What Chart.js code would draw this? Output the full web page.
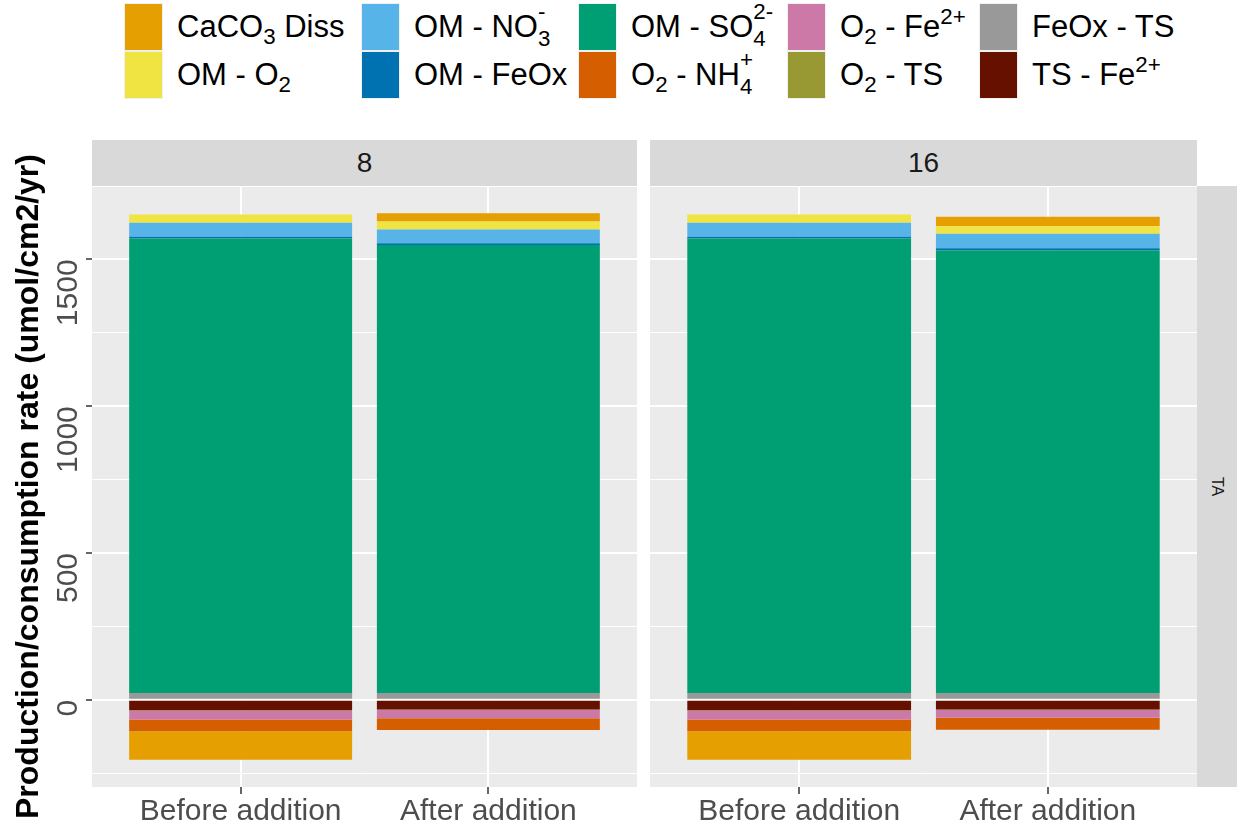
<!DOCTYPE html>
<html>
<head>
<meta charset="utf-8">
<script src="https://cdn.jsdelivr.net/npm/chart.js@4.4.0/dist/chart.umd.min.js"></script>
<style>
  html, body { margin: 0; padding: 0; background: #fff; }
  body { width: 1238px; height: 830px; position: relative; overflow: hidden;
         font-family: "Liberation Sans", Arial, sans-serif; }
  canvas { position: absolute; }
  .key { position: absolute; width: 37px; height: 46px; box-shadow: 0 0 0 1px #f0f0f0; }
  .lab { position: absolute; font-size: 31px; line-height: 30px; color: #000; white-space: nowrap; }
  .sb { font-size: 0.72em; position: relative; top: 0.32em; line-height: 0; }
  .sp { font-size: 0.72em; position: relative; top: -0.6em; line-height: 0; }
  .ss { display: inline-block; position: relative; font-size: 0.72em; line-height: 0; }
  .ss .b { position: relative; top: 0.42em; }
  .ss .p { position: absolute; left: 0; top: -0.8em; }
  .strip { position: absolute; background: #d9d9d9; color: #1a1a1a; font-size: 28px;
           display: flex; align-items: center; justify-content: center; }
  .rstrip { position: absolute; background: #d9d9d9; color: #1a1a1a; font-size: 16px;
            writing-mode: vertical-rl; display: flex; align-items: center; justify-content: center; }
</style>
</head>
<body>
<div id="legend"></div>
<div class="strip" id="strip0" style="left:92px;top:140px;width:545px;height:46px;"></div>
<div class="strip" id="strip1" style="left:650px;top:140px;width:547px;height:46px;"></div>
<div class="rstrip" id="rstrip" style="left:1197px;top:186px;width:40px;height:601px;"></div>
<canvas id="c0" width="637" height="720" style="left:0;top:110px;"></canvas>
<canvas id="c1" width="547" height="720" style="left:650px;top:110px;"></canvas>
<script>
// categories and facets
const categories = ['Before addition', 'After addition'];
const panels = ['8', '16'];
const rowStrip = 'TA';

// series, in legend order
const seriesNames = ['CaCO3 Diss', 'OM - O2', 'OM - NO3-', 'OM - FeOx', 'OM - SO4 2-',
                     'O2 - NH4+', 'O2 - Fe2+', 'O2 - TS', 'FeOx - TS', 'TS - Fe2+'];
const seriesLegend = [
  'CaCO<span class="sb">3</span> Diss',
  'OM - O<span class="sb">2</span>',
  'OM - NO<span class="ss"><span class="b">3</span><span class="p">-</span></span>',
  'OM - FeOx',
  'OM - SO<span class="ss"><span class="b">4</span><span class="p">2-</span></span>',
  'O<span class="sb">2</span> - NH<span class="ss"><span class="b">4</span><span class="p">+</span></span>',
  'O<span class="sb">2</span> - Fe<span class="sp">2+</span>',
  'O<span class="sb">2</span> - TS',
  'FeOx - TS',
  'TS - Fe<span class="sp">2+</span>'
];
const seriesColors = ['#E69F00', '#F0E442', '#56B4E9', '#0072B2', '#009E73',
                      '#D55E00', '#CC79A7', '#999933', '#999999', '#661100'];

// values: panel 8 (before, after), panel 16 (before, after)
const caco3Diss = [-97, 28, -97, 32];
const omO2      = [28, 27, 28, 26];
const omNO3     = [48, 47, 48, 49];
const omFeOx    = [6, 6, 6, 7];
const omSO4     = [1548, 1526, 1548, 1508];
const o2NH4     = [-40, -40, -40, -41];
const o2Fe      = [-30, -28, -30, -26];
const o2TS      = [-1, -2, -1, -2];
const feoxTS    = [23, 23, 23, 23];
const tsFe      = [-36, -33, -36, -33];

const allSeries = [caco3Diss, omO2, omNO3, omFeOx, omSO4, o2NH4, o2Fe, o2TS, feoxTS, tsFe];
// stacking order from zero outwards
const stackOrder = [8, 9, 7, 6, 5, 4, 3, 2, 1, 0];

// shared y range with 5% expansion, like the original
let hi = 0, lo = 0;
for (let k = 0; k < panels.length * categories.length; k++) {
  let pos = 0, neg = 0;
  allSeries.forEach(s => { if (s[k] > 0) pos += s[k]; else neg += s[k]; });
  hi = Math.max(hi, pos); lo = Math.min(lo, neg);
}
const pad = (hi - lo) * 0.05;
const yMin = lo - pad, yMax = hi + pad;

Chart.defaults.font.family = '"Liberation Sans", Arial, sans-serif';

const panelBg = {
  id: 'panelBg',
  beforeDraw(chart) {
    const a = chart.chartArea, ctx = chart.ctx;
    ctx.save();
    ctx.fillStyle = '#EBEBEB';
    ctx.fillRect(a.left, a.top, a.right - a.left, a.bottom - a.top);
    ctx.restore();
  }
};

function makeChart(id, p, showY) {
  const datasets = stackOrder.map(i => ({
    label: seriesNames[i],
    data: categories.map((c, j) => ({ x: j + 1, y: allSeries[i][p * categories.length + j] })),
    backgroundColor: seriesColors[i],
    borderWidth: 0,
    categoryPercentage: 1,
    barPercentage: 0.9
  }));
  return new Chart(document.getElementById(id), {
    type: 'bar',
    data: { datasets: datasets },
    plugins: [panelBg],
    options: {
      responsive: false,
      animation: false,
      layout: { padding: { top: 76, left: 0, right: 0, bottom: 0 } },
      plugins: { legend: { display: false }, tooltip: { enabled: false } },
      scales: {
        x: {
          type: 'linear',
          stacked: true,
          min: 0.4,
          max: categories.length + 0.6,
          offset: false,
          afterBuildTicks: s => { s.ticks = categories.map((c, i) => ({ value: i + 1 })); },
          afterFit: s => { s.height = 43; },
          border: { display: false },
          grid: { offset: false, color: '#FFFFFF', lineWidth: 2, tickColor: '#333333', tickWidth: 1.5, tickLength: 7 },
          ticks: {
            autoSkip: false, maxRotation: 0, minRotation: 0, padding: 0,
            color: '#4D4D4D', font: { size: 30 },
            callback: v => categories[v - 1] || ''
          }
        },
        y: {
          type: 'linear',
          stacked: true,
          min: yMin,
          max: yMax,
          afterBuildTicks: s => {
            const t = [];
            for (let v = Math.ceil(yMin / 250) * 250; v <= yMax; v += 250) t.push({ value: v });
            s.ticks = t;
          },
          afterFit: s => { s.width = showY ? 92 : 0; },
          border: { display: false },
          grid: {
            color: '#FFFFFF',
            lineWidth: c => (c.tick && c.tick.value % 500 === 0) ? 2 : 1,
            drawTicks: showY,
            tickLength: 6,
            tickWidth: 1.5,
            tickColor: c => (c.tick && c.tick.value % 500 === 0) ? '#333333' : 'rgba(0,0,0,0)'
          },
          ticks: {
            display: showY,
            minRotation: 90, maxRotation: 90,
            padding: 17,
            color: '#4D4D4D', font: { size: 30 },
            callback: v => (v % 500 === 0) ? String(v) : ''
          },
          title: {
            display: showY,
            text: 'Production/consumption rate (umol/cm2/yr)',
            color: '#000000',
            font: { size: 32, weight: 'bold' },
            padding: { top: 10, bottom: 0 }
          }
        }
      }
    }
  });
}

makeChart('c0', 0, true);
makeChart('c1', 1, false);

document.getElementById('strip0').textContent = panels[0];
document.getElementById('strip1').textContent = panels[1];
document.getElementById('rstrip').textContent = rowStrip;

// legend: 2 rows, filled by column
const legendCols = [125, 362, 579, 788, 980];
const legend = document.getElementById('legend');
seriesLegend.forEach((html, i) => {
  const col = Math.floor(i / 2), row = i % 2;
  const key = document.createElement('div');
  key.className = 'key';
  key.style.left = legendCols[col] + 'px';
  key.style.top = (4 + row * 48) + 'px';
  key.style.background = seriesColors[i];
  legend.appendChild(key);
  const lab = document.createElement('div');
  lab.className = 'lab';
  lab.style.left = (legendCols[col] + 52) + 'px';
  lab.style.top = (row === 0 ? 12 : 60) + 'px';
  lab.innerHTML = html;
  legend.appendChild(lab);
});
</script>
</body>
</html>
